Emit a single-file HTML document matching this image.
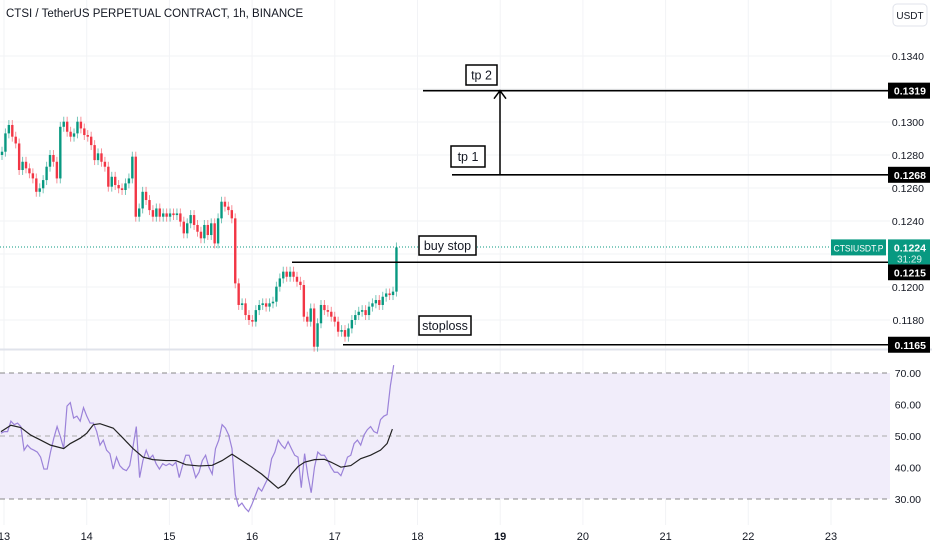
<!DOCTYPE html>
<html><head><meta charset="utf-8"><style>
html,body{margin:0;padding:0;background:#fff;width:932px;height:550px;overflow:hidden;font-family:"Liberation Sans",sans-serif;}
svg text{font-family:"Liberation Sans",sans-serif;}
</style></head><body>
<svg id="chart" width="932" height="550" xmlns="http://www.w3.org/2000/svg">
<g id="grid"></g>
<rect x="0" y="373" width="890" height="126" fill="#f1edfa"/>
<line x1="0" x2="890" y1="373" y2="373" stroke="#888" stroke-dasharray="5,4"/>
<line x1="0" x2="890" y1="436" y2="436" stroke="#aaa" stroke-dasharray="5,4"/>
<line x1="0" x2="890" y1="499" y2="499" stroke="#888" stroke-dasharray="5,4"/>
<line x1="0" x2="932" y1="349.5" y2="349.5" stroke="#e0e3eb" stroke-width="2"/>
<line x1="0" x2="890" y1="247" y2="247" stroke="#089981" stroke-dasharray="1,2"/>
<g id="candles"></g>
<g id="rsi"></g>
<g id="axes"></g>
<g id="draw"></g>
<text x="6" y="17" font-size="11.5" fill="#131722">CTSI / TetherUS PERPETUAL CONTRACT, 1h, BINANCE</text>
<rect x="893" y="4" width="34" height="22" rx="4" fill="#fff" stroke="#e0e3eb"/>
<text x="910" y="19" font-size="10" fill="#131722" text-anchor="middle">USDT</text>
</svg>
<script>
const closes=[0.12820,0.12931,0.12982,0.12911,0.12870,0.12709,0.12759,0.12719,0.12689,0.12658,0.12577,0.12598,0.12648,0.12729,0.12800,0.12759,0.12658,0.12971,0.13002,0.12941,0.12911,0.12931,0.13002,0.12961,0.12921,0.12911,0.12860,0.12769,0.12810,0.12759,0.12729,0.12608,0.12668,0.12618,0.12598,0.12588,0.12628,0.12658,0.12790,0.12426,0.12476,0.12577,0.12527,0.12466,0.12426,0.12476,0.12426,0.12446,0.12426,0.12446,0.12436,0.12446,0.12396,0.12325,0.12386,0.12436,0.12376,0.12335,0.12295,0.12376,0.12315,0.12386,0.12264,0.12416,0.12517,0.12487,0.12466,0.12416,0.12022,0.11891,0.11901,0.11830,0.11800,0.11790,0.11860,0.11891,0.11901,0.11881,0.11901,0.11911,0.12002,0.12052,0.12093,0.12062,0.12093,0.12062,0.12032,0.12012,0.11820,0.11790,0.11870,0.11638,0.11780,0.11891,0.11860,0.11850,0.11820,0.11790,0.11729,0.11739,0.11699,0.11749,0.11800,0.11830,0.11850,0.11860,0.11830,0.11881,0.11901,0.11921,0.11891,0.11941,0.11961,0.11951,0.11972,0.12240];
const rsiValues=[50.9,51.4,51.4,54.7,53.6,54.1,53.0,45.5,47.1,46.0,45.5,44.9,43.3,39.5,39.5,44.9,49.3,53.0,49.8,46.0,59.5,60.6,55.7,56.3,54.7,59.0,56.3,54.1,54.1,51.4,47.1,48.7,45.5,44.4,39.5,43.3,40.6,39.5,39.0,40.6,46.6,53.0,36.8,42.2,45.5,42.8,43.9,41.2,39.5,41.2,40.6,41.2,40.6,41.7,36.8,40.6,43.9,43.9,40.6,36.8,38.5,42.2,43.9,40.1,37.9,46.0,48.7,53.6,52.5,50.3,46.0,31.4,27.7,28.7,27.1,26.0,28.2,30.9,33.6,32.5,34.7,36.8,42.8,44.9,48.7,47.1,46.0,48.2,46.0,43.9,43.3,33.6,44.4,37.4,32.0,40.1,44.9,43.9,43.9,42.2,40.1,38.5,38.5,37.4,40.1,43.3,43.9,47.6,48.7,47.1,50.3,52.0,53.0,51.4,50.9,55.2,56.3,56.8,66.0,72.5];
const maIdx=[0,3,6,9,12,15,19,21,24,26,28,30,34,37,40,43,46,50,53,56,60,64,67,70,73,76,79,82,84,86,88,90,92,95,98,100,103,106,109,112,115,117,118.6];
const maValues=[51.4,53.4,52.7,50.3,48.7,47.1,46.0,47.6,49.3,50.9,53.6,53.9,52.5,49.3,46.0,43.3,42.5,42.2,42.2,40.9,40.5,40.7,42.2,44.2,42.2,40.1,37.9,35.2,33.4,34.7,37.9,40.3,41.7,42.5,42.6,41.7,40.1,40.6,42.8,43.9,45.5,47.6,52.2];
const priceTicks=[0.1340,0.1300,0.1280,0.1260,0.1240,0.1200,0.1180];
const gridPrices=[0.1340,0.1320,0.1300,0.1280,0.1260,0.1240,0.1220,0.1200,0.1180];
const rsiTicks=[70,60,50,40,30];
const dayLabels=["13","14","15","16","17","18","19","20","21","22","23"];
const levels=[{name:"tp-2",price:0.1319,label:"tp 2",x1:423,dy:0},{name:"tp-1",price:0.1268,label:"tp 1",x1:452,dy:0},{name:"buy-stop",price:0.1215,label:"buy stop",x1:292,dy:10},{name:"stoploss",price:0.1165,label:"stoploss",x1:343,dy:0}];
const firstOpen=0.12800, lastPrice=0.1224;

const NS="http://www.w3.org/2000/svg";
const yP=p=>56+(0.1340-p)*16500;
const yR=v=>373+(70-v)*3.15;
const xC=i=>2+i*3.43;
const xR=i=>1+i*3.3;
const xD=d=>4+d*82.7;
function mk(tag,attrs,parent,txt){const e=document.createElementNS(NS,tag);for(const k in attrs)e.setAttribute(k,attrs[k]);if(txt!==undefined)e.textContent=txt;parent.appendChild(e);return e;}
const grid=document.getElementById('grid'),cg=document.getElementById('candles'),rg=document.getElementById('rsi'),ag=document.getElementById('axes'),dg=document.getElementById('draw');
gridPrices.forEach(p=>{const l=mk('line',{x1:0,x2:890,y1:yP(p),y2:yP(p),stroke:'#f2f3f6'},grid);});
[60,40].forEach(v=>{const l=mk('line',{x1:0,x2:890,y1:yR(v),y2:yR(v),stroke:'#e6e2f0'},grid);});
dayLabels.forEach((d,i)=>{const l=mk('line',{x1:xD(i),x2:xD(i),y1:0,y2:525,stroke:'#f2f3f6'},grid);
const t=mk('text',{x:xD(i),y:540,'font-size':11,fill:'#131722','text-anchor':'middle','font-weight':d==="19"?'bold':'normal'},ag,d);});
closes.forEach((c,i)=>{const o=i?closes[i-1]:firstOpen;const up=c>=o;const col=up?'#089981':'#f23645';
const hi=Math.max(o,c)+0.0003,lo=Math.min(o,c)-0.0003;const x=xC(i);
const w=mk('line',{x1:x,x2:x,y1:yP(hi),y2:yP(lo),stroke:col,'stroke-width':1,opacity:0.55},cg);
const yt=yP(Math.max(o,c)),h=Math.max(1,Math.abs(yP(o)-yP(c)));
const b=mk('rect',{x:x-1.2,y:yt,width:2.4,height:h,fill:col},cg);});
const rp=mk('polyline',{points:rsiValues.map((v,i)=>xR(i)+','+yR(v)).join(' '),fill:'none',stroke:'#9b82d9','stroke-width':1.2},rg);

const mp=mk('polyline',{points:maValues.map((v,i)=>xR(maIdx[i])+','+yR(v)).join(' '),fill:'none',stroke:'#222','stroke-width':1.2},rg);

priceTicks.forEach(p=>{const t=mk('text',{x:924,y:yP(p)+4,'font-size':10.5,fill:'#131722','text-anchor':'end'},ag,p.toFixed(4));});
rsiTicks.forEach(v=>{const t=mk('text',{x:921,y:yR(v)+4,'font-size':10.5,fill:'#131722','text-anchor':'end'},ag,v.toFixed(2));});
levels.forEach(L=>{const y=yP(L.price);
const l=mk('line',{x1:L.x1,x2:890,y1:y,y2:y,stroke:'#000','stroke-width':1.6},dg);
const r=mk('rect',{x:888,y:y-8+L.dy,width:42,height:16,fill:'#000'},dg);
const t=mk('text',{x:926,y:y+4+L.dy,'font-size':10.5,fill:'#fff','text-anchor':'end','font-weight':'bold'},dg,L.price.toFixed(4));});
const boxes=[{n:'tp-2',x:466,y:65,w:31,h:20,t:'tp 2'},{n:'tp-1',x:451,y:146,w:34,h:21,t:'tp 1'},{n:'buy-stop',x:419,y:236,w:57,h:19,t:'buy stop'},{n:'stoploss',x:419,y:316,w:52,h:19,t:'stoploss'}];
boxes.forEach(B=>{const r=mk('rect',{x:B.x,y:B.y,width:B.w,height:B.h,fill:'#fff',stroke:'#000','stroke-width':1.5},dg);
const t=mk('text',{x:B.x+B.w/2,y:B.y+B.h/2+4.5,'font-size':12.5,fill:'#131722','text-anchor':'middle'},dg,B.t);});
const ax=500,ay1=yP(0.1268),ay2=yP(0.1319);
const al=mk('path',{d:`M${ax},${ay1} L${ax},${ay2} M${ax-6},${ay2+8} L${ax},${ay2} L${ax+6},${ay2+8}`,stroke:'#000','stroke-width':1.5,fill:'none'},dg);

const yl=yP(lastPrice);
const sl=mk('rect',{x:831,y:yl-8,width:55,height:16,fill:'#089981'},dg);
const st=mk('text',{x:858.5,y:yl+4,'font-size':9.5,fill:'#fff','text-anchor':'middle','textLength':50,'lengthAdjust':'spacingAndGlyphs'},dg,'CTSIUSDT.P');
const pl=mk('rect',{x:888,y:yl-8,width:42,height:25,fill:'#089981'},dg);
const pt=mk('text',{x:926,y:yl+4,'font-size':10.5,fill:'#fff','text-anchor':'end','font-weight':'bold'},dg,lastPrice.toFixed(4));
const ct=mk('text',{x:922,y:yl+15,'font-size':10,fill:'#d6f2ec','text-anchor':'end'},dg,'31:29');
</script>
</body></html>
